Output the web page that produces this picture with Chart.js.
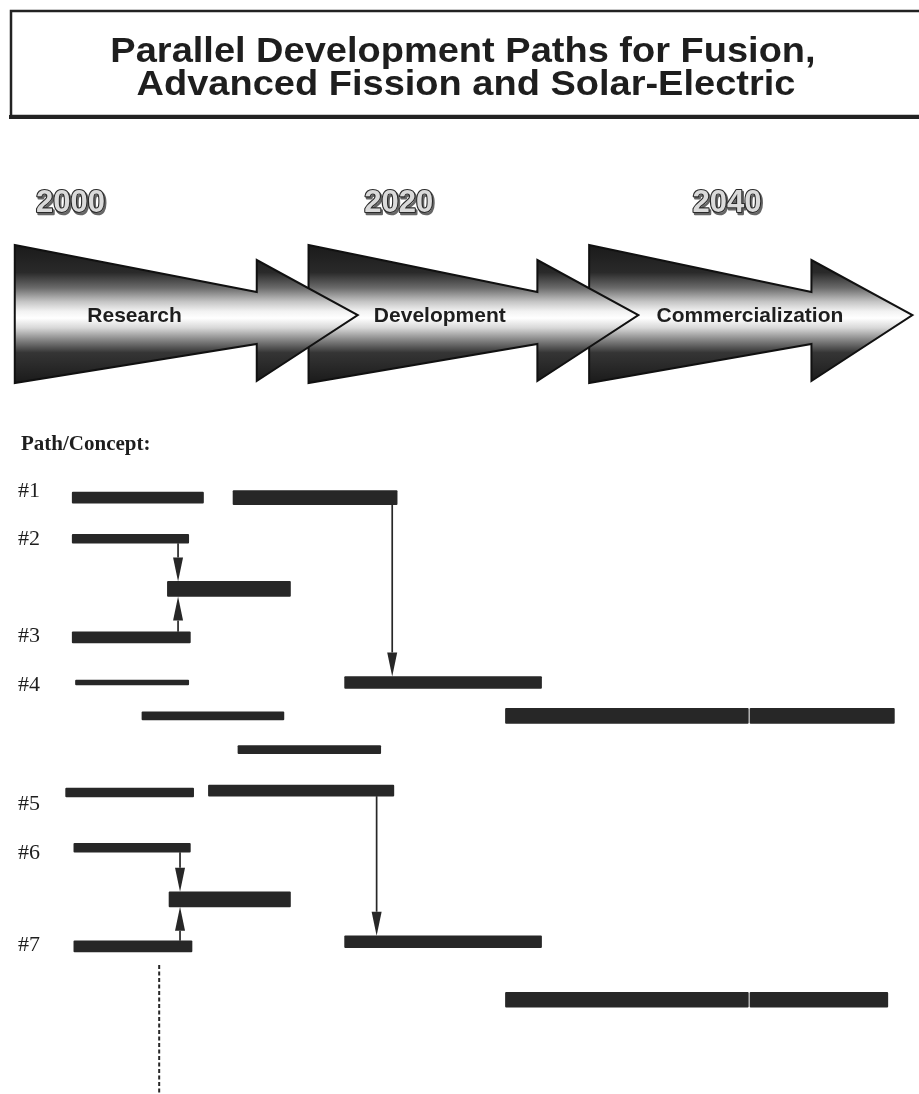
<!DOCTYPE html>
<html>
<head>
<meta charset="utf-8">
<script src="https://cdn.jsdelivr.net/npm/chart.js@4/dist/chart.umd.min.js"></script>
<style>
  html, body { margin: 0; padding: 0; background: #fff; }
  canvas { display: block; }
</style>
</head>
<body>
<canvas id="roadmap" width="919" height="1094"></canvas>
<script>
// ---- Content ----
const titleLines = ['Parallel Development Paths for Fusion,', 'Advanced Fission and Solar-Electric'];
const yearTicks = [2000, 2020, 2040];

// Programme phases along the time axis (years)
const phaseNames = ['Research', 'Development', 'Commercialization'];
const phaseStart = [1996.6, 2014.5, 2031.6];
const phaseEnd = [2017.5, 2034.6, 2051.3];
const phaseTextAt = [2003.9, 2022.5, 2041.4];

// Path / concept rows (lane numbers count down the page)
const pathHeading = 'Path/Concept:';
const pathLabels = ['#1', '#2', '#3', '#4', '#5', '#6', '#7'];
const pathLabelLanes = [0.85, 1.91, 4.04, 5.11, 7.71, 8.79, 10.81];

// Activity bars as [lane, start year, end year], grouped by line weight
const heavyBars = [
  [3.0, 2005.9, 2013.4],
  [5.78, 2026.5, 2041.3], [5.78, 2041.4, 2050.2],
  [9.8, 2006.0, 2013.4],
  [12.0, 2026.5, 2041.3], [12.0, 2041.4, 2049.8]
];
const wideBars = [[1.0, 2009.9, 2019.9]];
const mediumBars = [[5.05, 2016.7, 2028.7], [10.73, 2016.7, 2028.7]];
const standardBars = [
  [1.0, 2000.1, 2008.1], [4.06, 2000.1, 2007.3],
  [7.42, 2008.4, 2019.7], [10.83, 2000.2, 2007.4]
];
const narrowBars = [[1.9, 2000.1, 2007.2], [7.46, 1999.7, 2007.5], [8.67, 2000.2, 2007.3]];
const slimBars = [[5.78, 2004.35, 2013.0], [6.52, 2010.2, 2018.9]];
const thinBars = [[5.05, 2000.3, 2007.2]];

// Hand-offs between paths: [year, from lane, to lane]
const links = [
  [2019.6, 1.0, 5.05],
  [2006.55, 1.9, 3.0],
  [2006.55, 4.06, 3.0],
  [2018.65, 7.42, 10.73],
  [2006.67, 8.67, 9.8],
  [2006.67, 10.83, 9.8]
];
// Dashed milestone line
const markerYear = 2005.4;
const markerFromLane = 11.24;

// ---- Drawing ----
const INK = '#272727';
const SANS = '"Liberation Sans", Arial, Helvetica, sans-serif';
const SERIF = '"Liberation Serif", "Times New Roman", serif';

function barSet(rows, thickness) {
  return {
    data: rows.map(r => ({ y: r[0], x: [r[1], r[2]] })),
    barThickness: thickness,
    backgroundColor: INK,
    borderWidth: 0,
    borderRadius: 1,
    borderSkipped: false
  };
}

function phaseArrow(ctx, x0, x1) {
  const barb = x1 - 101;
  ctx.beginPath();
  ctx.moveTo(x0, 245);
  ctx.lineTo(barb, 292);
  ctx.lineTo(barb, 260);
  ctx.lineTo(x1, 315);
  ctx.lineTo(barb, 381);
  ctx.lineTo(barb, 344);
  ctx.lineTo(x0, 383);
  ctx.closePath();
  const g = ctx.createLinearGradient(0, 245, 0, 383);
  g.addColorStop(0.00, '#1a1a1a');
  g.addColorStop(0.20, '#2a2a2a');
  g.addColorStop(0.31, '#6a6a6a');
  g.addColorStop(0.41, '#c4c4c4');
  g.addColorStop(0.48, '#f2f2f2');
  g.addColorStop(0.53, '#ffffff');
  g.addColorStop(0.60, '#d8d8d8');
  g.addColorStop(0.69, '#838383');
  g.addColorStop(0.78, '#353535');
  g.addColorStop(1.00, '#1a1a1a');
  ctx.fillStyle = g;
  ctx.fill();
  ctx.lineWidth = 2;
  ctx.lineJoin = 'miter';
  ctx.strokeStyle = '#111';
  ctx.stroke();
}

function findBar(chart, lane, year) {
  for (let d = 0; d < chart.data.datasets.length; d++) {
    const rows = chart.data.datasets[d].data;
    for (let i = 0; i < rows.length; i++) {
      const r = rows[i];
      if (r.y === lane && year >= r.x[0] && year <= r.x[1]) {
        return chart.getDatasetMeta(d).data[i];
      }
    }
  }
  return null;
}

const page = {
  id: 'page',
  beforeDraw(chart) {
    const ctx = chart.ctx;
    const xs = chart.scales.x, ys = chart.scales.y;
    ctx.save();
    ctx.fillStyle = '#fff';
    ctx.fillRect(0, 0, chart.width, chart.height);

    // Title box
    ctx.strokeStyle = '#222';
    ctx.lineWidth = 2.5;
    ctx.strokeRect(11, 11, 930, 105);
    ctx.fillStyle = '#222';
    ctx.fillRect(9, 115, 930, 4);

    // Title text, slightly compressed vertically
    ctx.save();
    const sy = 0.9;
    ctx.scale(1, sy);
    ctx.fillStyle = '#1e1e1e';
    ctx.font = 'bold 38px ' + SANS;
    ctx.textAlign = 'center';
    ctx.textBaseline = 'alphabetic';
    ctx.fillText(titleLines[0], 463, 62 / sy);
    ctx.fillText(titleLines[1], 466, 95 / sy);
    ctx.restore();

    // Year ticks (outlined, shadowed)
    ctx.textAlign = 'center';
    ctx.textBaseline = 'alphabetic';
    ctx.font = 'bold 31px ' + SANS;
    yearTicks.forEach(yr => {
      const x = xs.getPixelForValue(yr);
      ctx.lineJoin = 'round';
      ctx.strokeStyle = '#666';
      ctx.lineWidth = 2.5;
      ctx.strokeText(String(yr), x + 1.5, 213.5);
      ctx.strokeStyle = '#2a2a2a';
      ctx.lineWidth = 2.2;
      ctx.strokeText(String(yr), x, 212);
      ctx.fillStyle = '#dadada';
      ctx.fillText(String(yr), x, 212);
    });

    // Phase arrows: later phases underneath earlier ones
    for (let i = phaseNames.length - 1; i >= 0; i--) {
      phaseArrow(ctx, xs.getPixelForValue(phaseStart[i]), xs.getPixelForValue(phaseEnd[i]));
    }
    ctx.font = 'bold 21px ' + SANS;
    ctx.fillStyle = '#1e1e1e';
    ctx.textBaseline = 'middle';
    phaseNames.forEach((name, i) => {
      ctx.fillText(name, xs.getPixelForValue(phaseTextAt[i]), 316);
    });

    // Row labels
    ctx.textAlign = 'left';
    ctx.textBaseline = 'alphabetic';
    ctx.font = 'bold 21px ' + SERIF;
    ctx.fillStyle = '#1e1e1e';
    ctx.fillText(pathHeading, 21, 450);
    ctx.font = '22px ' + SERIF;
    ctx.textBaseline = 'middle';
    pathLabels.forEach((lab, i) => {
      ctx.fillText(lab, 18, ys.getPixelForValue(pathLabelLanes[i]));
    });
    ctx.restore();
  },
  afterDatasetsDraw(chart) {
    const ctx = chart.ctx;
    const xs = chart.scales.x, ys = chart.scales.y;
    ctx.save();
    ctx.strokeStyle = INK;
    ctx.fillStyle = INK;
    links.forEach(([yr, fromLane, toLane]) => {
      const a = findBar(chart, fromLane, yr);
      const b = findBar(chart, toLane, yr);
      if (!a || !b) return;
      const down = b.y > a.y;
      const y0 = down ? a.y + a.height / 2 : a.y - a.height / 2;
      const y1 = down ? b.y - b.height / 2 : b.y + b.height / 2;
      const x = xs.getPixelForValue(yr);
      const dir = down ? 1 : -1;
      const head = 24;
      ctx.lineWidth = 1.7;
      ctx.beginPath();
      ctx.moveTo(x, y0);
      ctx.lineTo(x, y1 - dir * head);
      ctx.stroke();
      ctx.beginPath();
      ctx.moveTo(x, y1);
      ctx.lineTo(x - 5, y1 - dir * head);
      ctx.lineTo(x + 5, y1 - dir * head);
      ctx.closePath();
      ctx.fill();
    });

    // Milestone marker
    const mx = xs.getPixelForValue(markerYear);
    ctx.lineWidth = 2;
    ctx.setLineDash([4, 2.5]);
    ctx.beginPath();
    ctx.moveTo(mx, ys.getPixelForValue(markerFromLane));
    ctx.lineTo(mx, chart.height);
    ctx.stroke();
    ctx.restore();
  }
};

new Chart(document.getElementById('roadmap'), {
  type: 'bar',
  data: {
    datasets: [
      barSet(heavyBars, 15),
      barSet(wideBars, 14),
      barSet(mediumBars, 12),
      barSet(standardBars, 11),
      barSet(narrowBars, 9),
      barSet(slimBars, 8),
      barSet(thinBars, 5)
    ]
  },
  options: {
    indexAxis: 'y',
    responsive: false,
    animation: false,
    events: [],
    layout: { padding: { top: 452, bottom: 3, left: 0, right: 0 } },
    scales: {
      x: { type: 'linear', min: 1995.7, max: 2051.7, display: false, stacked: false },
      y: { type: 'linear', min: 0, max: 14, reverse: true, display: false, stacked: true, offset: false }
    },
    plugins: { legend: { display: false }, tooltip: { enabled: false } }
  },
  plugins: [page]
});
</script>
</body>
</html>
